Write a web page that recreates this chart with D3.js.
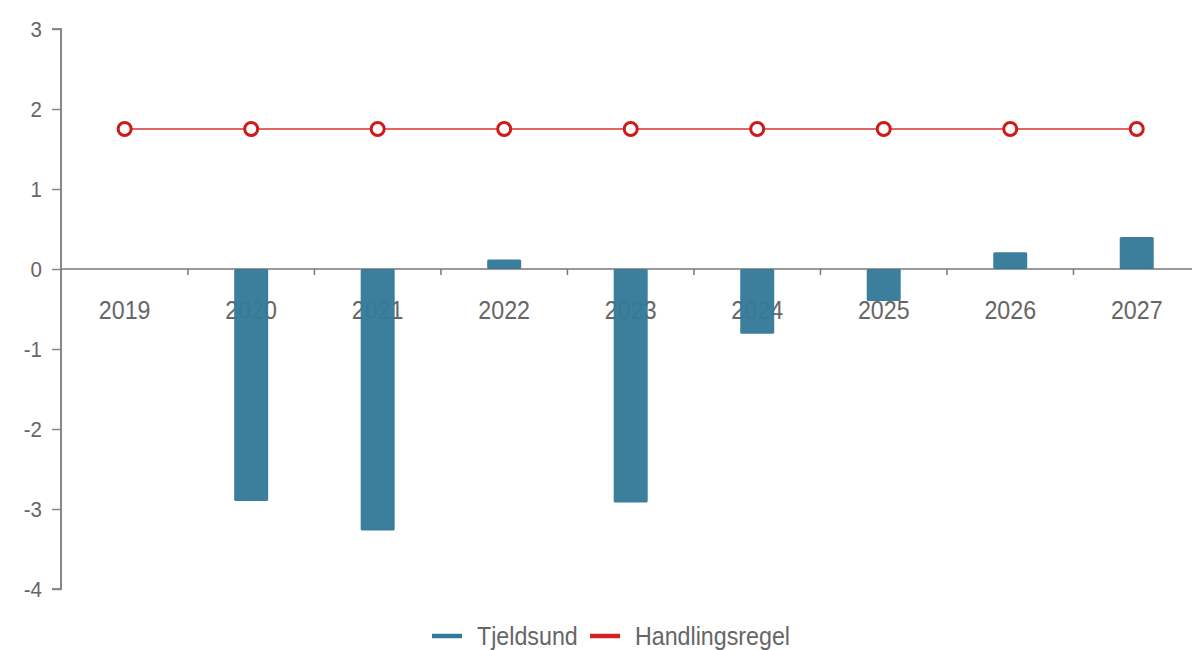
<!DOCTYPE html>
<html>
<head>
<meta charset="utf-8">
<script src="https://cdn.jsdelivr.net/npm/d3@7"></script>
<style>
  html, body { margin: 0; padding: 0; background: #fff; }
  svg { display: block; font-family: "Liberation Sans", Arial, sans-serif; }
</style>
</head>
<body>
<svg id="chart" width="1192" height="650"></svg>
<script>
// Years on the x axis
const years = ["2019", "2020", "2021", "2022", "2023", "2024", "2025", "2026", "2027"];
// Tjeldsund values per year (2019 has no value)
const tjeldsund = [null, -2.9, -3.27, 0.12, -2.92, -0.81, -0.4, 0.21, 0.4];
// Handlingsregel reference level per year
const handlingsregel = [1.75, 1.75, 1.75, 1.75, 1.75, 1.75, 1.75, 1.75, 1.75];
// Y axis ticks
const yTicks = [3, 2, 1, 0, -1, -2, -3, -4];
// Legend entries
const legendItems = ["Tjeldsund", "Handlingsregel"];

const barColor = "#337a98";
const lineColor = "#e06666";
const markerColor = "#cf1a1a";
const textColor = "#666";
const axisColor = "#888";
const squeeze = 0.93; // slightly condensed lettering

const svg = d3.select("#chart");

const x = d3.scaleBand().domain(years).range([61.4, 1200]).paddingInner(0).paddingOuter(0);
const y = d3.scaleLinear().domain([-4, 3]).range([589, 29]);

function label(g, tx, ty, txt, size, anchor) {
  g.append("g").attr("transform", `translate(${tx},${ty}) scale(${squeeze},1)`)
    .append("text")
    .attr("text-anchor", anchor)
    .attr("fill", textColor)
    .style("font-size", size + "px")
    .text(txt);
}

// Y axis line and ticks
const yAxis = svg.append("g").attr("transform", "translate(61,0)")
  .call(d3.axisLeft(y).tickValues(yTicks).tickSize(9).tickFormat(""));
yAxis.select(".domain").attr("stroke", axisColor).attr("stroke-width", 2).attr("d", `M-9,${y(3)}H0V${y(-4)}H-9`);
yAxis.selectAll(".tick line").attr("stroke", axisColor).attr("stroke-width", 1.5);
yAxis.selectAll(".tick text").remove();

// Y tick labels (plain hyphen for negatives)
const yLab = svg.append("g");
yTicks.forEach(t => label(yLab, 42, y(t) + 7.5, String(t), 22, "end"));

// Zero line with category separators
const xAxis = svg.append("g").attr("transform", `translate(0,${y(0)})`);
xAxis.append("line").attr("x1", 61).attr("x2", 1192).attr("y1", 0).attr("y2", 0)
  .attr("stroke", "#777").attr("stroke-width", 1.5);
xAxis.selectAll("line.sep").data(years.slice(1)).join("line").attr("class", "sep")
  .attr("x1", d => x(d)).attr("x2", d => x(d)).attr("y1", 0).attr("y2", 6)
  .attr("stroke", "#777").attr("stroke-width", 1.5);

// Year labels
const xLab = svg.append("g");
years.forEach(d => label(xLab, x(d) + x.bandwidth() / 2, y(0) + 50, d, 25, "middle"));

// Bars
const barW = 34;
svg.append("g").selectAll("rect")
  .data(years.map((yr, i) => ({ yr, v: tjeldsund[i] })).filter(d => d.v !== null))
  .join("rect")
  .attr("x", d => x(d.yr) + x.bandwidth() / 2 - barW / 2)
  .attr("width", barW)
  .attr("y", d => y(Math.max(0, d.v)))
  .attr("height", d => Math.abs(y(d.v) - y(0)))
  .attr("rx", 1.5)
  .attr("fill", barColor)
  .attr("fill-opacity", 0.96);

// Handlingsregel line with markers
const pts = years.map((yr, i) => ({ yr, v: handlingsregel[i] }));
svg.append("path").datum(pts)
  .attr("fill", "none").attr("stroke", lineColor).attr("stroke-width", 2)
  .attr("d", d3.line().x(d => x(d.yr) + x.bandwidth() / 2).y(d => y(d.v)));
svg.append("g").selectAll("circle").data(pts).join("circle")
  .attr("cx", d => x(d.yr) + x.bandwidth() / 2)
  .attr("cy", d => y(d.v))
  .attr("r", 6.5)
  .attr("fill", "#fff")
  .attr("stroke", markerColor)
  .attr("stroke-width", 3);

// Legend
const legend = svg.append("g");
const legendColors = [barColor, "#d42222"];
const legendX = [432, 590];
legendItems.forEach((name, i) => {
  legend.append("line").attr("x1", legendX[i]).attr("x2", legendX[i] + 30)
    .attr("y1", 636).attr("y2", 636).attr("stroke", legendColors[i]).attr("stroke-width", 4.5);
  label(legend, legendX[i] + 45, 645, name, 25, "start");
});
</script>
</body>
</html>
